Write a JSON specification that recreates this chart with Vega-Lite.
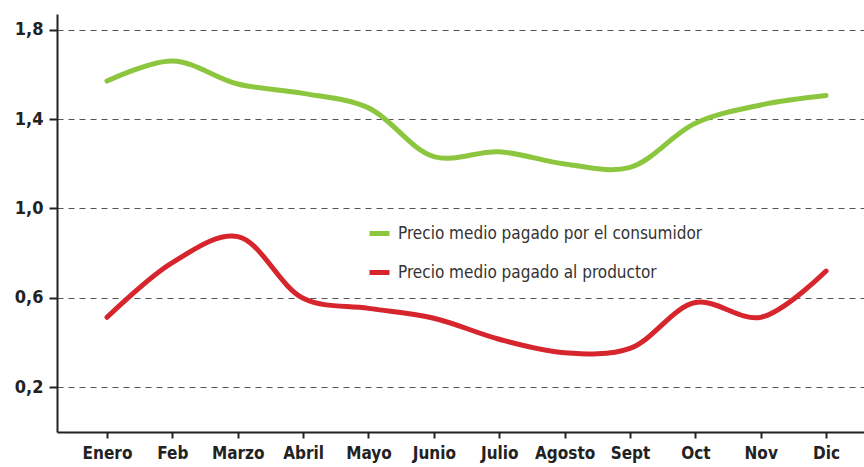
{
  "$schema": "https://vega.github.io/schema/vega-lite/v6.json",
  "width": 807,
  "height": 418,
  "autosize": {"type": "none"},
  "padding": {"left": 57, "top": 14, "right": 0, "bottom": 35},
  "background": "white",
  "config": {"view": {"stroke": null}},
  "data": {
    "values": [
      {"n": 1, "mes": "Enero", "serie": "Precio medio pagado por el consumidor", "precio": 1.57},
      {"n": 2, "mes": "Feb", "serie": "Precio medio pagado por el consumidor", "precio": 1.66},
      {"n": 3, "mes": "Marzo", "serie": "Precio medio pagado por el consumidor", "precio": 1.557},
      {"n": 4, "mes": "Abril", "serie": "Precio medio pagado por el consumidor", "precio": 1.515},
      {"n": 5, "mes": "Mayo", "serie": "Precio medio pagado por el consumidor", "precio": 1.45},
      {"n": 6, "mes": "Junio", "serie": "Precio medio pagado por el consumidor", "precio": 1.232},
      {"n": 7, "mes": "Julio", "serie": "Precio medio pagado por el consumidor", "precio": 1.254},
      {"n": 8, "mes": "Agosto", "serie": "Precio medio pagado por el consumidor", "precio": 1.199},
      {"n": 9, "mes": "Sept", "serie": "Precio medio pagado por el consumidor", "precio": 1.184},
      {"n": 10, "mes": "Oct", "serie": "Precio medio pagado por el consumidor", "precio": 1.381},
      {"n": 11, "mes": "Nov", "serie": "Precio medio pagado por el consumidor", "precio": 1.463},
      {"n": 12, "mes": "Dic", "serie": "Precio medio pagado por el consumidor", "precio": 1.505},
      {"n": 1, "mes": "Enero", "serie": "Precio medio pagado al productor", "precio": 0.513},
      {"n": 2, "mes": "Feb", "serie": "Precio medio pagado al productor", "precio": 0.758},
      {"n": 3, "mes": "Marzo", "serie": "Precio medio pagado al productor", "precio": 0.874},
      {"n": 4, "mes": "Abril", "serie": "Precio medio pagado al productor", "precio": 0.598},
      {"n": 5, "mes": "Mayo", "serie": "Precio medio pagado al productor", "precio": 0.553},
      {"n": 6, "mes": "Junio", "serie": "Precio medio pagado al productor", "precio": 0.509},
      {"n": 7, "mes": "Julio", "serie": "Precio medio pagado al productor", "precio": 0.415},
      {"n": 8, "mes": "Agosto", "serie": "Precio medio pagado al productor", "precio": 0.355},
      {"n": 9, "mes": "Sept", "serie": "Precio medio pagado al productor", "precio": 0.374},
      {"n": 10, "mes": "Oct", "serie": "Precio medio pagado al productor", "precio": 0.579},
      {"n": 11, "mes": "Nov", "serie": "Precio medio pagado al productor", "precio": 0.513},
      {"n": 12, "mes": "Dic", "serie": "Precio medio pagado al productor", "precio": 0.72}
    ]
  },
  "mark": {"type": "line", "interpolate": "catmull-rom", "strokeWidth": 5, "strokeCap": "round"},
  "encoding": {
    "x": {
      "field": "n",
      "type": "quantitative",
      "scale": {"domain": [0.235, 12.58], "nice": false, "zero": false},
      "axis": {
        "title": null,
        "values": [1, 2, 3, 4, 5, 6, 7, 8, 9, 10, 11, 12],
        "labelExpr": "['Enero','Feb','Marzo','Abril','Mayo','Junio','Julio','Agosto','Sept','Oct','Nov','Dic'][datum.value - 1]",
        "grid": false,
        "domainColor": "#222",
        "domainWidth": 2,
        "tickColor": "#222",
        "tickWidth": 2,
        "tickSize": 6,
        "labelFont": "'DejaVu Sans Condensed', 'Roboto', sans-serif",
        "labelFontWeight": "bold",
        "labelFontSize": 17,
        "labelColor": "#222",
        "labelPadding": 7,
        "labelFlush": false,
        "labelOverlap": false
      }
    },
    "y": {
      "field": "precio",
      "type": "quantitative",
      "scale": {"domain": [0, 1.87], "nice": false},
      "axis": {
        "title": null,
        "values": [0.2, 0.6, 1.0, 1.4, 1.8],
        "labelExpr": "replace(format(datum.value, '.1f'), '.', ',')",
        "grid": true,
        "gridColor": "#555",
        "gridDash": [6, 5],
        "gridWidth": 1,
        "domainColor": "#222",
        "domainWidth": 2,
        "tickColor": "#222",
        "tickWidth": 2,
        "tickSize": 8,
        "labelFont": "'DejaVu Sans Condensed', 'Roboto', sans-serif",
        "labelFontWeight": "bold",
        "labelFontSize": 18,
        "labelColor": "#222",
        "labelPadding": 6
      }
    },
    "color": {
      "field": "serie",
      "type": "nominal",
      "scale": {
        "domain": ["Precio medio pagado por el consumidor", "Precio medio pagado al productor"],
        "range": ["#8cc63f", "#d7252d"]
      },
      "legend": {
        "title": null,
        "orient": "none",
        "legendX": 310,
        "legendY": 207,
        "symbolType": "stroke",
        "symbolStrokeWidth": 5,
        "symbolSize": 400,
        "labelFont": "'DejaVu Sans Condensed', 'Roboto', sans-serif",
        "labelFontSize": 17,
        "labelColor": "#333",
        "labelOffset": 6,
        "rowPadding": 16,
        "labelLimit": 500
      }
    }
  }
}
